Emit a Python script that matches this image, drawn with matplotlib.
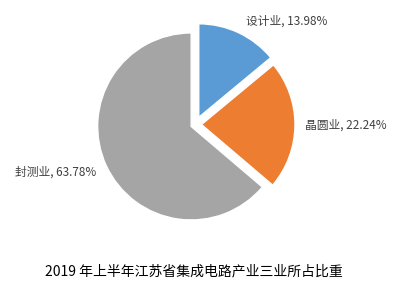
import matplotlib
matplotlib.use("Agg")
from matplotlib import pyplot as plt

plt.rcParams['font.family'] = ['Noto Sans CJK SC', 'DejaVu Sans']

categories = ["设计业", "晶圆业", "封测业"]
shares = [13.98, 22.24, 63.78]
colors = ["#5B9BD5", "#ED7D31", "#A5A5A5"]
explode = [0.085, 0.065, 0.05]
title = "2019 年上半年江苏省集成电路产业三业所占比重"

fig = plt.figure(figsize=(3.99, 2.88), dpi=100)
ax = fig.add_axes([0, 0, 1, 1])

wedges, texts = ax.pie(shares, colors=colors, explode=explode, startangle=90,
                       counterclock=False, radius=1,
                       labels=[f"{c}, {v:.2f}%" for c, v in zip(categories, shares)],
                       wedgeprops=dict(edgecolor="white", linewidth=1),
                       textprops=dict(fontsize=8.5, color="#404040"))

# label placement like the original (outside end)
label_pos = [((0.98, 1.11), "center"), ((1.172, -0.01), "left"), ((-1.056, -0.505), "right")]
for t, (pos, ha) in zip(texts, label_pos):
    t.set_position(pos)
    t.set_ha(ha)
    t.set_va("center")

# pixel scale: ~93.5 px per unit, center at (195.4, 124.5)
ax.set_xlim(-195.4 / 93.5, (399 - 195.4) / 93.5)
ax.set_ylim((124.5 - 288) / 93.5, 124.5 / 93.5)
ax.set_aspect("auto")
ax.axis("off")

fig.text(0.486, 0.059, title, ha="center", va="center", fontsize=10, color="black")

fig.savefig("out.png", dpi=100)
